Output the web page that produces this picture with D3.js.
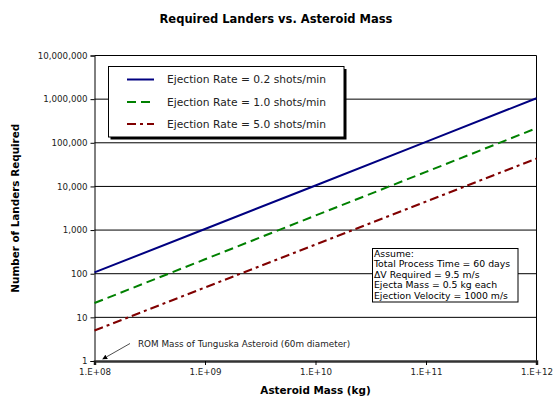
<!DOCTYPE html>
<html>
<head>
<meta charset="utf-8">
<script src="https://cdn.jsdelivr.net/npm/d3@7"></script>
<style>
  html, body { margin: 0; padding: 0; background: #fff; }
  svg { display: block; font-family: "DejaVu Sans", Verdana, sans-serif; }
</style>
</head>
<body>
<svg id="chart" width="553" height="396"></svg>
<script>
// Asteroid mass (kg) at each decade
const masses = [1e8, 1e9, 1e10, 1e11, 1e12];
// Number of landers required for each ejection rate
const landers02 = [107, 1060, 10500, 105000, 1050000];
const landers10 = [21.3, 214, 2150, 21500, 216000];
const landers50 = [5.0, 48.3, 466, 4500, 43500];

const seriesNames = [
  "Ejection Rate = 0.2 shots/min",
  "Ejection Rate = 1.0 shots/min",
  "Ejection Rate = 5.0 shots/min"
];
const seriesColors = ["#000080", "#008000", "#800000"];
const seriesDash = [null, "9,5", "9,4,3,4"];

const yTicks = [1, 10, 100, 1000, 10000, 100000, 1000000, 10000000];
const xTicks = [1e8, 1e9, 1e10, 1e11, 1e12];
const xTickLabels = ["1.E+08", "1.E+09", "1.E+10", "1.E+11", "1.E+12"];

const assumeLines = [
  "Assume:",
  "Total Process Time = 60 days",
  "\u0394V Required = 9.5 m/s",
  "Ejecta Mass = 0.5 kg each",
  "Ejection Velocity = 1000 m/s"
];
const tunguskaNote = "ROM Mass of Tunguska Asteroid (60m diameter)";
const tunguskaMass = 1.2e8;

const svg = d3.select("#chart");
const L = 94.5, R = 536.5, T = 55.5, B = 361;

const x = d3.scaleLog().domain([1e8, 1e12]).range([L, R]);
const y = d3.scaleLog().domain([1, 1e7]).range([B, T]);

// Title
svg.append("text")
  .attr("x", 276).attr("y", 23)
  .attr("text-anchor", "middle")
  .style("font-weight", "bold").style("font-size", "11.5px")
  .text("Required Landers vs. Asteroid Mass");

// Horizontal gridlines at each decade
svg.append("g").selectAll("line")
  .data(yTicks.slice(1, -1))
  .join("line")
  .attr("x1", L).attr("x2", R)
  .attr("y1", d => y(d)).attr("y2", d => y(d))
  .attr("stroke", "#000").attr("stroke-width", 1);

// Plot frame (top and right)
svg.append("path")
  .attr("d", `M${L},${T}H${R}V${B}`)
  .attr("fill", "none").attr("stroke", "#000").attr("stroke-width", 1);

// Y axis
const yAxis = d3.axisLeft(y)
  .tickValues(yTicks)
  .tickFormat(d3.format(","))
  .tickSize(4).tickPadding(3);
const gy = svg.append("g").attr("transform", `translate(${L},0)`).call(yAxis);
gy.select(".domain").attr("stroke", "#000");
gy.selectAll(".tick line").attr("stroke", "#000");
gy.selectAll(".tick text")
  .style("font-family", "DejaVu Sans, Verdana, sans-serif")
  .style("font-size", "8.7px").attr("fill", "#222");

// X axis
const xAxis = d3.axisBottom(x)
  .tickValues(xTicks)
  .tickFormat((d, i) => xTickLabels[i])
  .tickSize(4).tickPadding(4);
const gx = svg.append("g").attr("transform", `translate(0,${B})`).call(xAxis);
gx.select(".domain").attr("stroke", "#333").attr("stroke-width", 2.5);
gx.selectAll(".tick line").attr("stroke", "#000");
gx.selectAll(".tick text")
  .style("font-family", "DejaVu Sans, Verdana, sans-serif")
  .style("font-size", "8.7px").attr("fill", "#222");

// Axis titles
svg.append("text")
  .attr("x", (L + R) / 2).attr("y", 394)
  .attr("text-anchor", "middle")
  .style("font-weight", "bold").style("font-size", "10.4px")
  .text("Asteroid Mass (kg)");

svg.append("text")
  .attr("transform", `translate(19,${(T + B) / 2}) rotate(-90)`)
  .attr("text-anchor", "middle")
  .style("font-weight", "bold").style("font-size", "10.4px")
  .text("Number of Landers Required");

// Series lines
const allSeries = [landers02, landers10, landers50];
const line = d3.line()
  .x((d, i) => x(masses[i]))
  .y(d => y(d));

svg.append("g").selectAll("path")
  .data(allSeries)
  .join("path")
  .attr("d", d => line(d))
  .attr("fill", "none")
  .attr("stroke", (d, i) => seriesColors[i])
  .attr("stroke-width", 2)
  .attr("stroke-dasharray", (d, i) => seriesDash[i]);

// Legend
const lg = svg.append("g");
lg.append("rect")
  .attr("x", 110.5).attr("y", 69)
  .attr("width", 236).attr("height", 70.5)
  .attr("fill", "#000");
lg.append("rect")
  .attr("x", 108.5).attr("y", 66.5)
  .attr("width", 235.5).attr("height", 70.5)
  .attr("fill", "#fff").attr("stroke", "#000").attr("stroke-width", 1);
const rows = [79.5, 102, 124];
seriesNames.forEach((name, i) => {
  lg.append("line")
    .attr("x1", 127).attr("x2", 154)
    .attr("y1", rows[i]).attr("y2", rows[i])
    .attr("stroke", seriesColors[i]).attr("stroke-width", 2)
    .attr("stroke-dasharray", seriesDash[i]);
  lg.append("text")
    .attr("x", 167).attr("y", rows[i] + 3.8)
    .style("font-size", "10.7px").attr("fill", "#222")
    .text(name);
});

// Assumptions box
const ab = svg.append("g");
ab.append("rect")
  .attr("x", 372.5).attr("y", 248.5)
  .attr("width", 145.5).attr("height", 53.5)
  .attr("fill", "#fff").attr("stroke", "#000").attr("stroke-width", 1);
assumeLines.forEach((t, i) => {
  ab.append("text")
    .attr("x", 374).attr("y", 256.5 + i * 10.5)
    .style("font-size", "9.3px").attr("fill", "#000")
    .text(t);
});

// Tunguska annotation with arrow
const defs = svg.append("defs");
defs.append("marker")
  .attr("id", "arrowhead")
  .attr("viewBox", "0 0 10 10")
  .attr("refX", 9).attr("refY", 5)
  .attr("markerWidth", 7).attr("markerHeight", 7)
  .attr("orient", "auto")
  .append("path").attr("d", "M0,0L10,5L0,10Z").attr("fill", "#000");

svg.append("line")
  .attr("x1", 130).attr("y1", 343.5)
  .attr("x2", x(tunguskaMass) - 0.5).attr("y2", B - 2)
  .attr("stroke", "#000").attr("stroke-width", 0.7)
  .attr("marker-end", "url(#arrowhead)");

svg.append("text")
  .attr("x", 138).attr("y", 347)
  .style("font-size", "8.8px").attr("fill", "#222")
  .text(tunguskaNote);
</script>
</body>
</html>
